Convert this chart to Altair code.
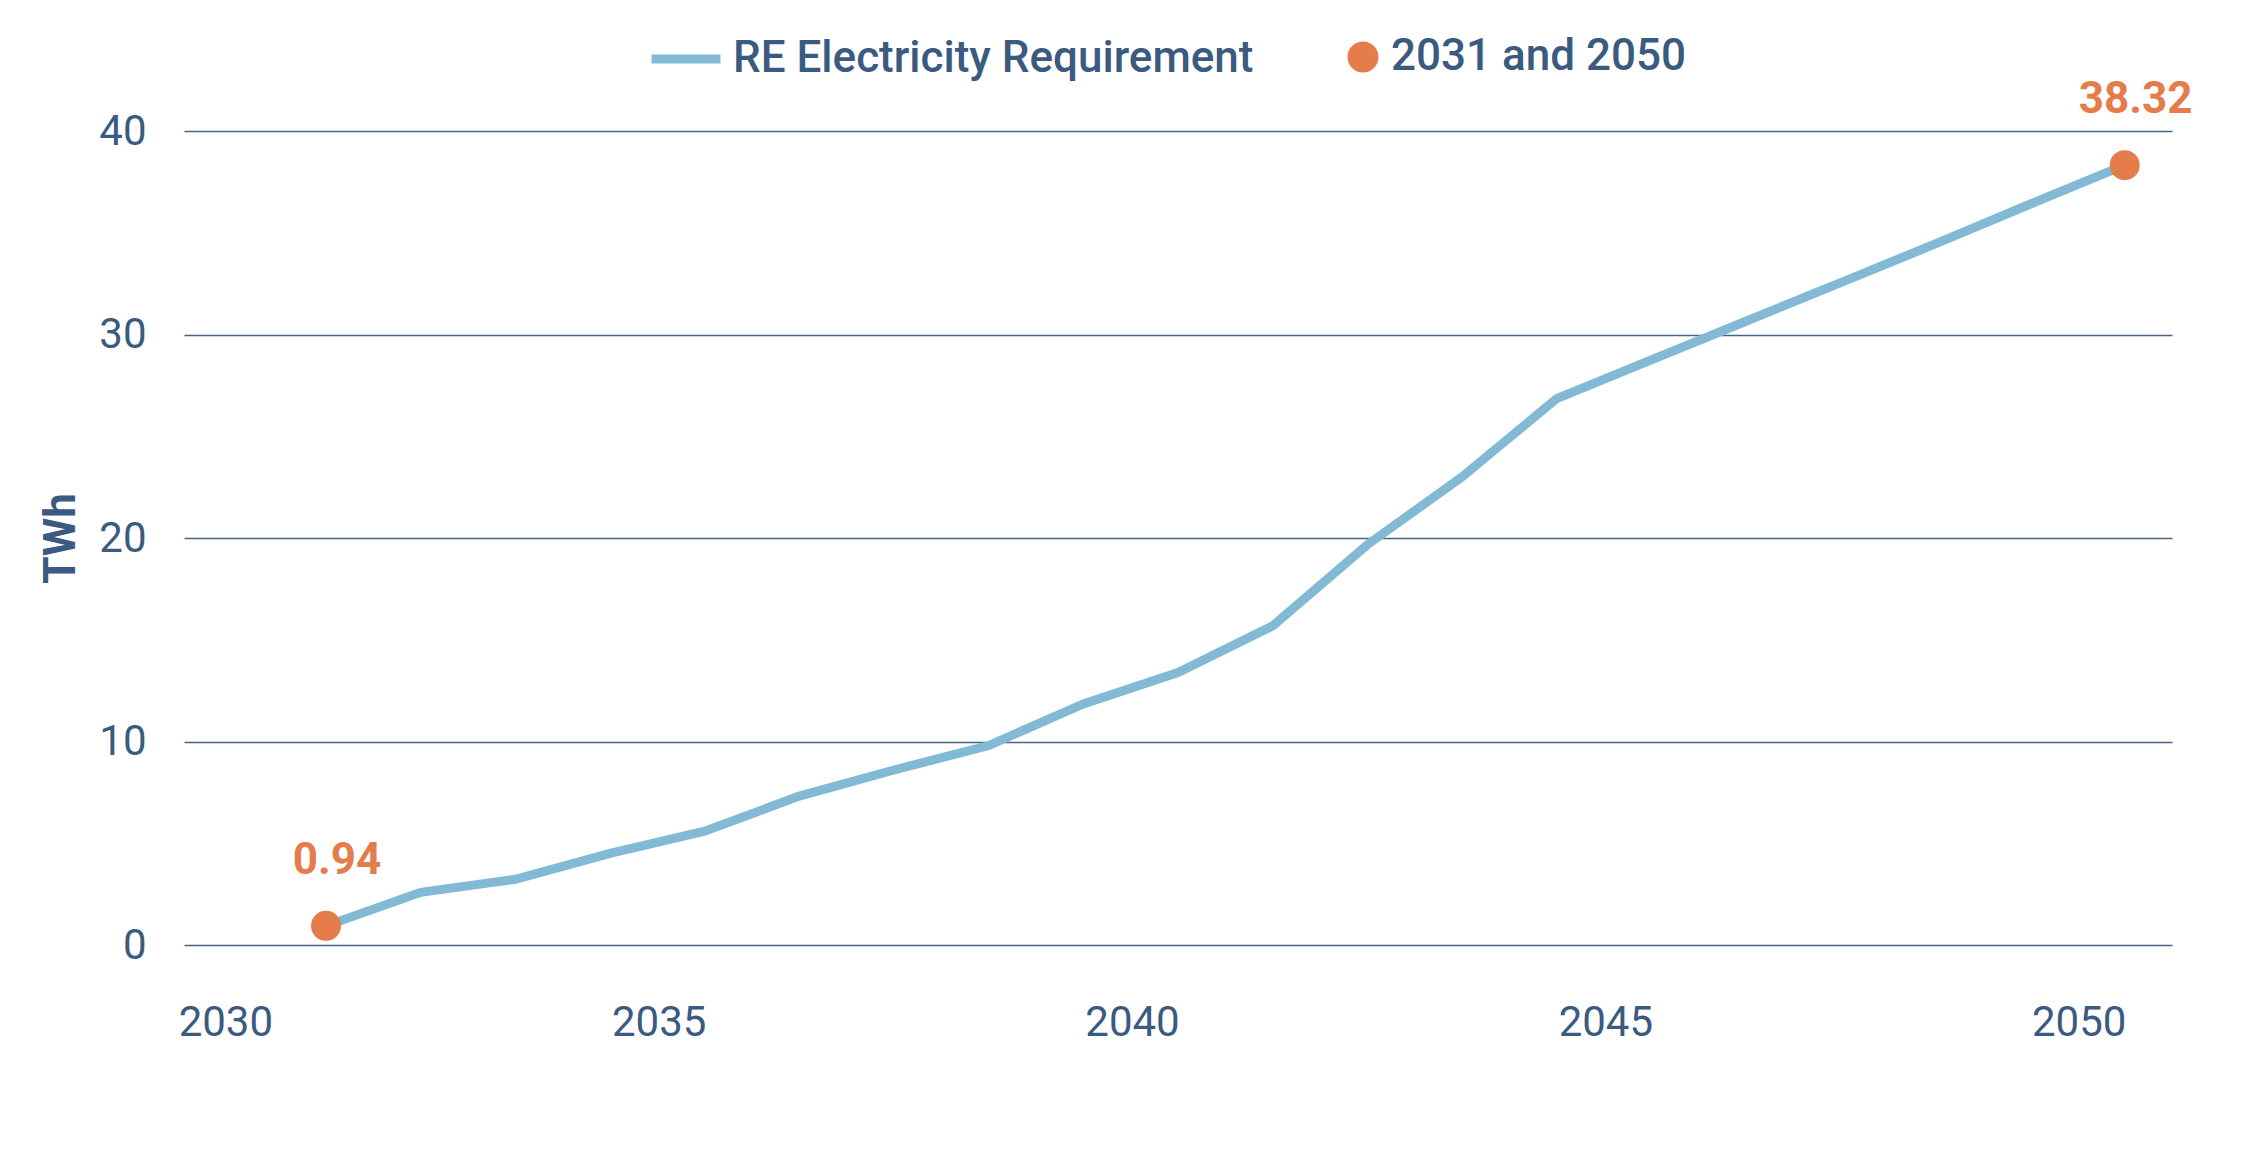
import altair as alt
import pandas as pd

# ---- data ----
years = list(range(2031, 2051))
twh = [0.94, 2.59, 3.23, 4.50, 5.59, 7.32, 8.60, 9.80, 11.85, 13.39,
       15.68, 19.67, 23.00, 26.85, 28.75, 30.65, 32.55, 34.45, 36.40, 38.32]
series_name = "RE Electricity Requirement"
marker_name = "2031 and 2050"
marker_years = [2031, 2050]
marker_values = [0.94, 38.32]
x_ticks = [2030, 2035, 2040, 2045, 2050]
y_ticks = [0, 10, 20, 30, 40]

NAVY = "#3b5a7f"
BLUE = "#82b9d4"
ORANGE = "#e47c4b"
GRID = "#4b6383"
FONT = "Roboto"

line_df = pd.DataFrame({"year": years, "twh": twh, "series": [series_name] * len(years)})
pt_df = pd.DataFrame({"year": marker_years, "twh": marker_values,
                      "marker": [marker_name] * len(marker_years)})

x_enc = alt.X(
    "year:Q",
    scale=alt.Scale(domain=[2029.5, 2050.5], nice=False, zero=False),
    axis=alt.Axis(
        values=x_ticks, format="d", title=None, grid=False, domain=False,
        ticks=False, tickSize=0, labelFlush=False,
        labelFont=FONT, labelFontSize=42, labelColor=NAVY, labelPadding=57,
        labelOffset={"condition": {"test": "datum.value == 2030", "value": -6}, "value": -46},
    ),
)
y_enc = alt.Y(
    "twh:Q",
    scale=alt.Scale(domain=[0, 40], nice=False),
    axis=alt.Axis(
        values=y_ticks, title="TWh", titleFont=FONT, titleFontSize=44,
        titleFontWeight="bold", titleColor=NAVY, titlePadding=15,
        grid=True, gridColor=GRID, gridWidth=1.5, domain=False,
        ticks=False, tickSize=0,
        labelFont=FONT, labelFontSize=42, labelColor=NAVY, labelPadding=38,
    ),
)

line = alt.Chart(line_df).mark_line(strokeWidth=9).encode(
    x=x_enc,
    y=y_enc,
    color=alt.Color(
        "series:N",
        scale=alt.Scale(domain=[series_name], range=[BLUE]),
        legend=alt.Legend(
            orient="none", legendX=463, legendY=-111, title=None,
            symbolType="stroke", symbolStrokeWidth=9, symbolSize=4761,
            labelOffset=8, labelFont=FONT, labelFontSize=44, labelColor=NAVY,
            labelFontWeight=500, padding=0, labelLimit=0,
        ),
    ),
)

pts = alt.Chart(pt_df).mark_circle(size=900, opacity=1).encode(
    x=x_enc,
    y=y_enc,
    fill=alt.Fill(
        "marker:N",
        scale=alt.Scale(domain=[marker_name], range=[ORANGE]),
        legend=alt.Legend(
            orient="none", legendX=1157, legendY=-96, title=None,
            symbolType="circle", symbolSize=961, symbolOpacity=1,
            labelOffset=6, labelFont=FONT, labelFontSize=44, labelColor=NAVY,
            labelFontWeight=500, padding=0, labelLimit=0,
        ),
    ),
)

txt = alt.Chart(pt_df).mark_text(
    font=FONT, fontSize=44, fontWeight="bold", color=ORANGE,
    dy=-52, dx=11, baseline="alphabetic", align="center",
).encode(
    x=x_enc,
    y=y_enc,
    text=alt.Text("twh:Q", format=".2f"),
)

chart = alt.layer(line, pts, txt).properties(
    width=1988,
    height=814,
    padding={"left": 176, "top": 123, "right": 70, "bottom": 180},
    autosize=alt.AutoSizeParams(type="none"),
    background="white",
).configure_view(stroke=None)

chart.save("out.html", embed_options={"renderer": "svg", "actions": False})
